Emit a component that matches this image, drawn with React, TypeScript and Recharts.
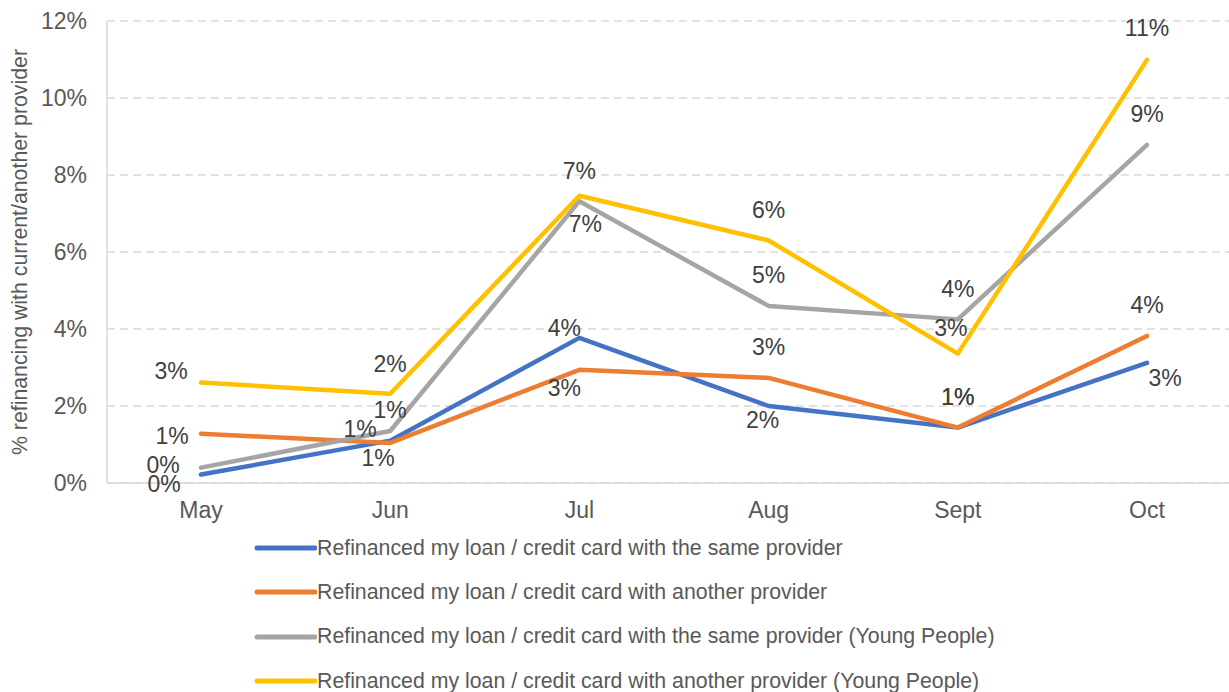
import { LineChart, Line, XAxis, YAxis, CartesianGrid, Legend, LabelList } from 'recharts'

const months = ['May', 'Jun', 'Jul', 'Aug', 'Sept', 'Oct']
const sameProvider = [0.22, 1.1, 3.77, 2.0, 1.44, 3.12]
const anotherProvider = [1.28, 1.04, 2.94, 2.73, 1.44, 3.82]
const sameProviderYoung = [0.4, 1.35, 7.32, 4.6, 4.25, 8.78]
const anotherProviderYoung = [2.61, 2.32, 7.46, 6.3, 3.36, 10.99]
const yTicks = [0, 2, 4, 6, 8, 10, 12]

const data = months.map((m, i) => ({
  month: m,
  same: sameProvider[i],
  another: anotherProvider[i],
  sameYoung: sameProviderYoung[i],
  anotherYoung: anotherProviderYoung[i],
}))

// label offsets (dx, dy) from each point, mimicking the Excel placement
const blueOff = [[-37, 9], [-12, 17], [-15, -10], [-6, 14], [0, -31], [18, 15]]
const orangeOff = [[-29, 2], [-30, -14], [-15, 18], [0, -31], [0, -31], [0, -31]]
const grayOff = [[-38, -3], [0, -21], [6, 23], [0, -31], [0, -30], [0, -31]]
const yellowOff = [[-30, -12], [0, -30], [0, -25], [0, -30], [-7, -26], [0, -32]]

const series = [
  { key: 'same', name: 'Refinanced my loan / credit card with the same provider', color: '#4472C4', off: blueOff },
  { key: 'another', name: 'Refinanced my loan / credit card with another provider', color: '#ED7D31', off: orangeOff },
  { key: 'sameYoung', name: 'Refinanced my loan / credit card with the same provider (Young People)', color: '#A5A5A5', off: grayOff },
  { key: 'anotherYoung', name: 'Refinanced my loan / credit card with another provider (Young People)', color: '#FFC000', off: yellowOff },
]

const FONT = '"Liberation Sans", Arial, sans-serif'

function makeLabel(off: number[][]) {
  return (props: any) => {
    const { index, value } = props
    const x = props.x ?? props.viewBox?.x
    const y = props.y ?? props.viewBox?.y
    const o = off[index] || [0, -30]
    return (
      <text
        x={x + o[0]}
        y={y + o[1]}
        textAnchor="middle"
        dominantBaseline="central"
        fontFamily={FONT}
        fontSize={23}
        fill="#404040"
      >
        {Math.round(value)}%
      </text>
    )
  }
}

function LegendBox() {
  return (
    <div style={{ fontFamily: FONT }}>
      {series.map((s) => (
        <div key={s.key} style={{ display: 'flex', alignItems: 'center', height: 44.3 }}>
          <svg width="64" height="6" style={{ marginRight: 0 }}>
            <line x1="4" y1="3" x2="62" y2="3" stroke={s.color} strokeWidth="5" strokeLinecap="round" />
          </svg>
          <span style={{ fontSize: 21.3, color: '#595959' }}>{s.name}</span>
        </div>
      ))}
    </div>
  )
}

export default function App() {
  return (
    <div style={{ position: 'absolute', left: 0, top: 0, width: 1229, height: 692, overflow: 'hidden', background: '#fff' }}>
      <LineChart width={1241} height={692} data={data} margin={{ top: 21, right: 0, left: 0, bottom: 169 }}>
        <CartesianGrid vertical={false} stroke="#D9D9D9" strokeWidth={1.5} strokeDasharray="8 5" />
        <XAxis
          dataKey="month"
          height={40}
          padding={{ left: 94, right: 94 }}
          tickLine={false}
          tickSize={0}
          tickMargin={19}
          axisLine={{ stroke: '#D9D9D9', strokeWidth: 1.5 }}
          tick={{ fontSize: 23, fill: '#595959', fontFamily: FONT }}
        />
        <YAxis
          width={107}
          domain={[0, 12]}
          ticks={yTicks}
          tickFormatter={(v) => `${v}%`}
          tickLine={false}
          tickSize={0}
          tickMargin={20}
          axisLine={{ stroke: '#D9D9D9', strokeWidth: 1.5 }}
          tick={{ fontSize: 23, fill: '#595959', fontFamily: FONT }}
          label={{
            value: '% refinancing with current/another provider',
            angle: -90,
            position: 'insideLeft',
            dx: 14,
            style: { textAnchor: 'middle', fontSize: 21.3, fill: '#595959', fontFamily: FONT },
          }}
        />
        <Legend
          layout="horizontal"
          verticalAlign="middle"
          align="center"
          wrapperStyle={{ top: 526, left: 253, width: 960 }}
          content={() => <LegendBox />}
        />
        {series.map((s) => (
          <Line
            key={s.key}
            type="linear"
            dataKey={s.key}
            name={s.name}
            stroke={s.color}
            strokeWidth={4.5}
            strokeLinecap="round"
            strokeLinejoin="round"
            dot={false}
            activeDot={false}
            isAnimationActive={false}
          >
            <LabelList dataKey={s.key} content={makeLabel(s.off)} />
          </Line>
        ))}
      </LineChart>
    </div>
  )
}
